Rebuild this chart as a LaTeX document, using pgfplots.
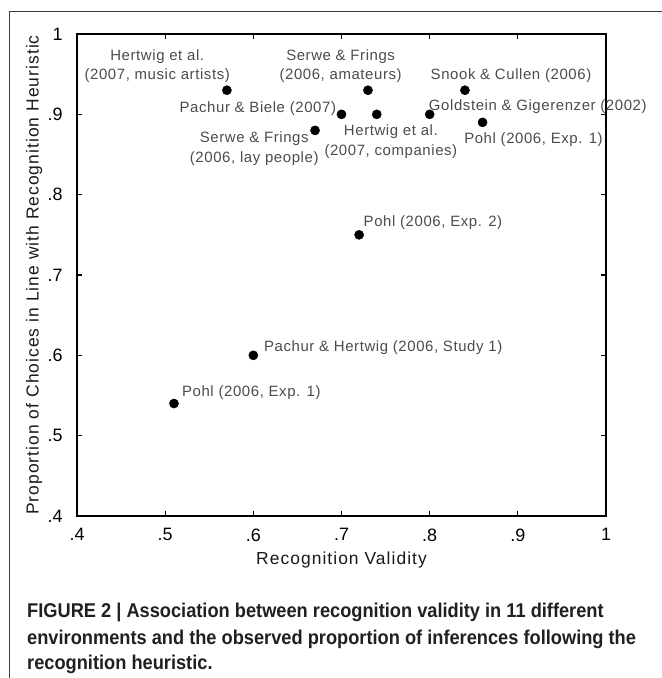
\documentclass[border=0pt]{standalone}
\usepackage{fontspec}
\setmainfont{Liberation Sans}
\newfontfamily\labfont[LetterSpace=4]{Liberation Sans}
\newfontfamily\axfont[LetterSpace=6]{Liberation Sans}
\newfontfamily\capfont[FakeStretch=0.915]{Liberation Sans}
\usepackage{pgfplots}
\pgfplotsset{compat=1.18}
\definecolor{labgray}{RGB}{75,75,75}
\definecolor{capblack}{RGB}{35,31,32}
\definecolor{framegray}{RGB}{60,60,60}

\begin{document}
\begin{tikzpicture}
\path[use as bounding box] (0,0) rectangle (662bp,678bp);
% panel frame (top and left edges)
\draw[framegray, line width=0.9bp] (9bp,0bp) -- (9bp,667bp) -- (662bp,667bp);

\begin{axis}[
    at={(77bp,162bp)}, anchor=south west,
    scale only axis,
    width=529bp, height=482bp,
    xmin=0.4, xmax=1, ymin=0.4, ymax=1,
    xtick={0.4,0.5,0.6,0.7,0.8,0.9,1},
    ytick={0.4,0.5,0.6,0.7,0.8,0.9,1},
    xticklabels={.4,.5,.6,.7,.8,.9,1},
    yticklabels={.4,.5,.6,.7,.8,.9,1},
    tick align=inside, tick pos=both,
    major tick length=5bp,
    axis line style={line width=1.6bp},
    every tick/.style={black, line width=1.3bp},
    ticklabel style={font=\fontsize{18}{20}\selectfont},
    xticklabel style={yshift=-9bp},
    yticklabel style={xshift=-11bp},
    /pgf/number format/assume math mode=true,
    xlabel={Recognition Validity},
    ylabel={Proportion of Choices in Line with Recognition Heuristic},
    label style={font=\axfont\fontsize{17.5}{20}\selectfont, color=black!90},
    xlabel style={at={(axis description cs:0.5,-0.092)}, anchor=center},
    ylabel style={at={(axis description cs:-0.081,0.5)}, anchor=center},
    clip=false,
]
\addplot[only marks, mark=*, mark size=4.6bp, black] coordinates {
    (0.57,0.93) (0.67,0.88) (0.70,0.90) (0.73,0.93) (0.74,0.90)
    (0.80,0.90) (0.84,0.93) (0.86,0.89) (0.72,0.75) (0.60,0.60) (0.51,0.54)
};
\begin{scope}[every node/.style={font=\labfont\fontsize{15}{20}\selectfont, text=labgray, inner sep=0pt, align=center}]
\node at (axis cs:0.491,0.960) {Hertwig et al.\\(2007, music artists)};
\node[anchor=east] at (axis cs:0.694,0.907) {Pachur \& Biele (2007)};
\node at (axis cs:0.601,0.857) {Serwe \& Frings\\(2006, lay people)};
\node at (axis cs:0.699,0.960) {Serwe \& Frings\\(2006, amateurs)};
\node[anchor=west] at (axis cs:0.801,0.948) {Snook \& Cullen (2006)};
\node[anchor=west] at (axis cs:0.799,0.910) {Goldstein \& Gigerenzer (2002)};
\node at (axis cs:0.756,0.8655) {Hertwig et al.\\(2007, companies)};
\node[anchor=west] at (axis cs:0.839,0.868) {Pohl (2006, Exp. 1)};
\node[anchor=west] at (axis cs:0.725,0.765) {Pohl (2006, Exp. 2)};
\node[anchor=west] at (axis cs:0.612,0.610) {Pachur \& Hertwig (2006, Study 1)};
\node[anchor=west] at (axis cs:0.519,0.554) {Pohl (2006, Exp. 1)};
\end{scope}
\end{axis}

\begin{scope}[every node/.style={anchor=base west, inner sep=0pt, text=capblack, font=\capfont\bfseries\fontsize{20}{26}\selectfont}]
\node at (27bp,60bp) {FIGURE 2 | Association between recognition validity in 11 different};
\node at (27bp,34bp) {environments and the observed proportion of inferences following the};
\node at (27bp,9bp) {recognition heuristic.};
\end{scope}
\end{tikzpicture}
\end{document}
